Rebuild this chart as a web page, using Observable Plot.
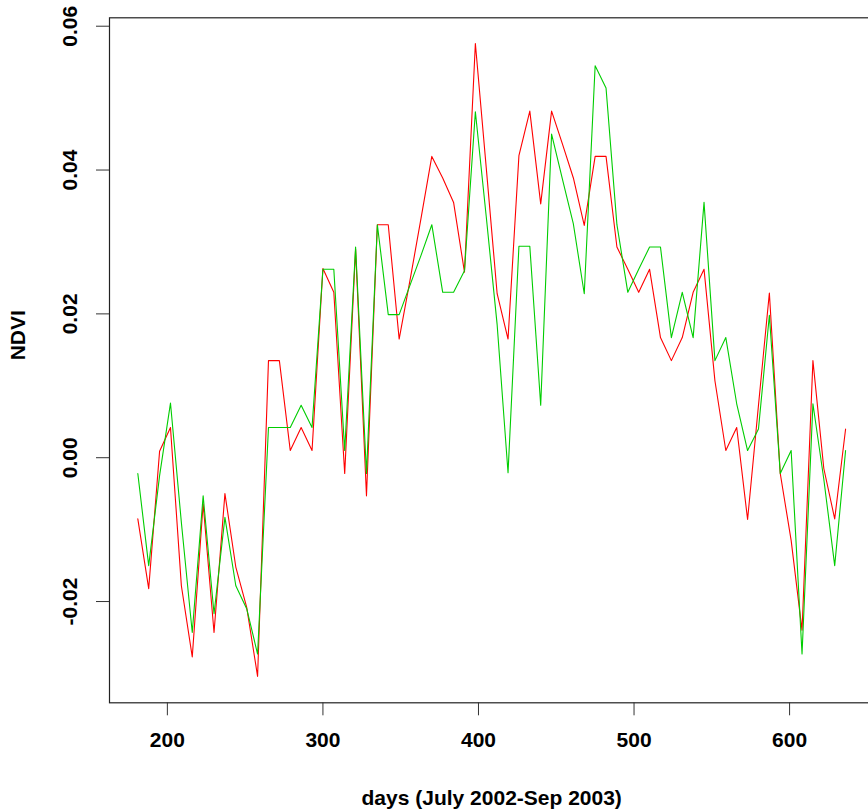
<!DOCTYPE html>
<html><head><meta charset="utf-8">
<script src="https://cdn.jsdelivr.net/npm/d3@7"></script>
<script src="https://cdn.jsdelivr.net/npm/@observablehq/plot@0.6"></script>
<style>html,body{margin:0;padding:0;background:#fff;overflow:hidden}</style>
</head><body><div id="chart"></div>
<script>
const days = [181,188,195,202,209,216,223,230,237,244,251,258,265,272,279,286,293,300,307,314,321,328,335,342,349,356,363,370,377,384,391,398,405,412,419,426,433,440,447,454,461,468,475,482,489,496,503,510,517,524,531,538,545,552,559,566,573,580,587,594,601,608,615,622,629,636];
const ndviRed = [-0.0085,-0.0182,0.0009,0.0042,-0.0178,-0.0277,-0.0064,-0.0243,-0.0050,-0.0152,-0.0208,-0.0304,
  0.0135,0.0135,0.0010,0.0042,0.0010,0.0263,0.0230,-0.0022,0.0290,-0.0053,0.0324,0.0324,0.0165,0.0247,0.0332,0.0419,0.0389,0.0355,0.0258,
  0.0576,0.0403,0.0228,0.0165,0.0420,0.0482,0.0353,0.0482,0.0436,0.0389,0.0323,0.0419,0.0419,0.0293,0.0262,0.0230,0.0262,0.0167,0.0135,0.0167,
  0.0230,0.0262,0.0107,0.0010,0.0042,-0.0086,0.0073,0.0229,-0.0022,-0.0115,-0.0240,0.0135,-0.0015,-0.0085,0.0040];
const ndviGreen = [-0.0022,-0.0150,-0.0025,0.0076,-0.0090,-0.0243,-0.0053,-0.0217,-0.0083,-0.0178,-0.0210,-0.0273,
  0.0042,0.0042,0.0042,0.0073,0.0042,0.0262,0.0262,0.0010,0.0293,-0.0022,0.0324,0.0199,0.0199,0.0240,0.0281,0.0324,0.0230,0.0230,0.0260,
  0.0481,0.0335,0.0185,-0.0021,0.0294,0.0294,0.0073,0.0450,0.0387,0.0325,0.0228,0.0545,0.0514,0.0324,0.0230,0.0262,0.0293,0.0293,0.0167,0.0230,
  0.0167,0.0355,0.0135,0.0167,0.0075,0.0010,0.0040,0.0198,-0.0022,0.0010,-0.0273,0.0075,-0.0030,-0.0150,0.0010];
const xTicks = [200,300,400,500,600];
const yTicks = [-0.02,0.00,0.02,0.04,0.06];
const xLabel = "days (July 2002-Sep 2003)";
const yLabel = "NDVI";
const redColor = "#ff0000";
const greenColor = "#00cd00";

const red = days.map((d,i) => ({day: d, ndvi: ndviRed[i]}));
const green = days.map((d,i) => ({day: d, ndvi: ndviGreen[i]}));

const font = "'Liberation Sans', Arial, Helvetica, sans-serif";
const fs = 21;

const chart = Plot.plot({
  width: 868, height: 810,
  marginLeft: 109, marginRight: -5.4, marginTop: 17.3, marginBottom: 107.7,
  style: {fontFamily: font, background: "white", overflow: "hidden"},
  x: {domain: [162.8, 654.2]},
  y: {domain: [-0.03408, 0.06117]},
  marks: [
    Plot.line(red, {x: "day", y: "ndvi", stroke: redColor, strokeWidth: 1.1}),
    Plot.line(green, {x: "day", y: "ndvi", stroke: greenColor, strokeWidth: 1.1}),
    Plot.frame({stroke: "#222", strokeWidth: 1.2}),
    Plot.axisX({ticks: xTicks, tickSize: 13, tickPadding: 16, tickFormat: d => String(d),
      label: null, fontSize: fs, fontWeight: "bold", stroke: "#333", fill: "black"}),
    Plot.axisY({ticks: yTicks, tickSize: 13, tickPadding: 20, tickRotate: -90, tickFormat: d => d.toFixed(2),
      label: null, fontSize: fs, fontWeight: "bold", stroke: "#333", fill: "black"}),
    Plot.text([xLabel], {frameAnchor: "bottom", dy: 95, lineAnchor: "middle", fontSize: fs, fontWeight: "bold", fill: "black"}),
    Plot.text([yLabel], {frameAnchor: "left", dx: -91, rotate: -90, lineAnchor: "middle", fontSize: fs, fontWeight: "bold", fill: "black"})
  ]
});
document.getElementById("chart").appendChild(chart);
</script>
</body></html>
